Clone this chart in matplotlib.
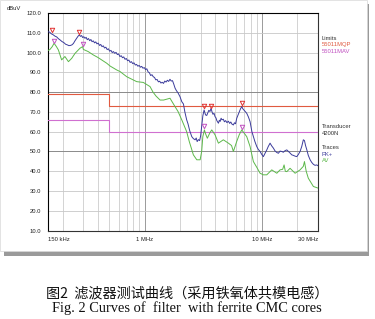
import matplotlib
matplotlib.use("Agg")
import matplotlib.pyplot as plt
from matplotlib.patches import Rectangle

# ---------------- data ----------------
pk_freq = [0.150, 0.155, 0.160, 0.166, 0.172, 0.178, 0.184, 0.190, 0.197, 0.205,
           0.212, 0.219, 0.226, 0.233, 0.240, 0.247, 0.255, 0.262, 0.270, 0.277,
           0.284, 0.290, 0.296, 0.303, 0.310, 0.317, 0.324, 0.332, 0.340, 0.348,
           0.356, 0.365, 0.374, 0.383, 0.392, 0.402, 0.412, 0.422, 0.433, 0.444,
           0.455, 0.467, 0.479, 0.491, 0.503, 0.516, 0.529, 0.542, 0.556, 0.570,
           0.585, 0.600, 0.615, 0.631, 0.647, 0.663, 0.680, 0.697, 0.715, 0.733,
           0.752, 0.771, 0.791, 0.811, 0.832, 0.853, 0.875, 0.897, 0.920, 0.943,
           0.967, 0.992, 1.017, 1.043, 1.070, 1.097, 1.125, 1.154, 1.183, 1.213,
           1.244, 1.276, 1.309, 1.342, 1.376, 1.411, 1.447, 1.484, 1.522, 1.561,
           1.601, 1.642, 1.684, 1.727, 1.771, 1.816, 1.862, 1.925, 2.000, 2.070,
           2.140, 2.200, 2.280, 2.340, 2.420, 2.520, 2.600, 2.690, 2.750, 2.800,
           2.870, 2.940, 3.000, 3.060, 3.130, 3.210, 3.260, 3.300, 3.380, 3.450,
           3.520, 3.600, 3.680, 3.750, 3.820, 3.900, 3.980, 4.050, 4.120, 4.250,
           4.330, 4.400, 4.480, 4.560, 4.680, 4.780, 4.900, 5.020, 5.170, 5.300,
           5.420, 5.550, 5.700, 5.820, 5.950, 6.090, 6.250, 6.400, 6.550, 6.720,
           6.860, 7.000, 7.200, 7.410, 7.650, 7.910, 8.200, 8.440, 8.700, 9.020,
           9.300, 9.630, 9.950, 10.27, 10.60, 10.98, 11.30, 11.71, 12.10, 12.50,
           12.90, 13.35, 13.79, 14.25, 14.73, 15.20, 15.70, 16.26, 16.80, 17.35,
           17.93, 18.55, 19.20, 19.79, 20.40, 21.10, 21.80, 22.50, 23.00, 23.50,
           24.10, 24.80, 25.70, 26.50, 27.40, 28.30, 29.30, 30.00]
pk_level = [110.5, 110.3, 109.5, 109.0, 108.3, 107.9, 107.0, 106.4, 105.6, 105.0,
            104.2, 103.9, 103.5, 103.6, 103.9, 104.6, 106.0, 107.0, 108.2, 108.9,
            108.2, 108.6, 107.6, 108.0, 107.2, 107.7, 106.5, 107.1, 106.0, 106.6,
            105.5, 105.9, 104.9, 105.4, 104.4, 104.8, 103.6, 104.1, 103.0, 103.4,
            102.3, 102.7, 101.5, 101.9, 100.7, 101.1, 100.0, 100.5, 99.6, 100.1,
            99.0, 99.3, 98.0, 98.4, 97.4, 97.8, 96.6, 97.0, 95.9, 96.2,
            95.0, 95.4, 94.4, 94.8, 93.7, 94.0, 93.1, 93.5, 92.6, 93.0,
            92.1, 92.4, 91.4, 91.8, 90.2, 89.8, 88.4, 88.8, 87.8, 87.4,
            86.2, 86.4, 85.2, 85.5, 84.6, 85.0, 84.4, 85.6, 85.1, 86.0,
            85.4, 86.5, 85.6, 85.8, 84.0, 82.0, 80.8, 79.6, 77.7, 75.2,
            74.0, 70.0, 66.0, 64.0, 60.5, 57.5, 56.5, 55.9, 56.8, 55.0,
            56.0, 55.5, 58.0, 62.6, 68.0, 71.0, 69.5, 68.5, 68.2, 69.5,
            70.8, 70.2, 71.8, 70.0, 68.8, 69.3, 67.6, 67.0, 65.6, 64.3,
            65.8, 65.2, 66.8, 66.0, 66.3, 65.0, 65.6, 64.6, 65.3, 64.2,
            64.9, 63.8, 63.4, 64.5, 64.0, 66.8, 68.5, 70.0, 71.5, 72.7,
            71.6, 71.0, 70.2, 69.3, 67.5, 65.1, 60.0, 57.5, 55.0, 52.5,
            51.0, 50.0, 48.5, 47.4, 49.0, 50.8, 52.5, 54.2, 52.8, 51.7,
            50.3, 49.5, 49.1, 50.2, 50.0, 49.6, 50.4, 50.8, 50.0, 49.2,
            48.3, 48.0, 47.6, 47.4, 48.5, 50.0, 52.5, 55.9, 55.5, 53.0,
            50.8, 48.0, 45.8, 44.5, 43.5, 43.0, 43.2, 42.8]

av_freq = [0.150, 0.156, 0.163, 0.169, 0.177, 0.184, 0.196, 0.209, 0.224, 0.239,
           0.255, 0.281, 0.296, 0.300, 0.330, 0.365, 0.400, 0.475, 0.507, 0.578,
           0.617, 0.703, 0.855, 0.974, 1.111, 1.178, 1.250, 1.352, 1.450, 1.644,
           1.800, 1.925, 2.070, 2.280, 2.400, 2.600, 2.780, 2.970, 3.060, 3.130,
           3.230, 3.300, 3.420, 3.600, 3.730, 3.980, 4.250, 4.680, 5.170, 5.500,
           5.700, 6.090, 6.400, 6.720, 7.410, 7.910, 8.440, 9.020, 9.630, 10.27,
           10.98, 12.11, 13.37, 14.25, 15.00, 15.42, 15.80, 16.26, 17.34, 19.14,
           21.10, 22.50, 23.00, 23.80, 24.80, 27.40, 30.00]
av_level = [101.0, 101.6, 103.0, 104.7, 103.0, 101.3, 96.3, 98.0, 95.4, 97.1,
            99.6, 102.2, 103.0, 101.6, 100.5, 98.8, 97.5, 94.6, 93.2, 91.2,
            90.4, 87.8, 85.3, 84.9, 82.8, 80.0, 78.0, 76.0, 76.0, 76.9,
            73.0, 70.2, 66.0, 60.0, 55.0, 48.3, 45.8, 45.8, 50.0, 57.5,
            60.9, 59.0, 56.7, 59.5, 60.9, 58.4, 54.2, 55.9, 54.2, 53.0,
            50.0, 55.1, 58.5, 60.9, 57.5, 52.5, 44.9, 42.0, 39.0, 38.2,
            38.2, 40.7, 39.0, 40.7, 41.0, 43.2, 40.0, 39.8, 41.5, 39.0,
            40.7, 42.5, 44.9, 40.0, 36.5, 32.3, 31.5]

limit_freq = [0.15, 0.5, 0.5, 30.0]
qp_limit = [79.0, 79.0, 73.0, 73.0]
av_limit = [66.0, 66.0, 60.0, 60.0]

pk_mark_freq = [0.161, 0.277, 3.21, 3.68, 6.72]
pk_mark_level = [111.6, 110.4, 73.0, 73.0, 74.6]
av_mark_freq = [0.169, 0.296, 3.23, 6.72]
av_mark_level = [106.0, 104.2, 62.9, 62.5]

y_ticks = [10, 20, 30, 40, 50, 60, 70, 80, 90, 100, 110, 120]
x_ticks = [0.15, 1.0, 10.0, 30.0]
x_tick_labels = ["150 kHz", "1 MHz", "10 MHz", "30 MHz"]
minor_grid = [0.2, 0.3, 0.4, 0.5, 0.6, 0.7, 0.8, 0.9,
              2, 3, 4, 5, 6, 7, 8, 9, 20]
major_grid = [1.0, 10.0]
dark_hgrid = [80, 50]

# ---------------- figure ----------------
W, H = 375, 319
fig = plt.figure(figsize=(W / 100, H / 100), dpi=100)
fig.patch.set_facecolor("white")


def fx(x):
    return x / W


def fy(y):
    return 1 - y / H


# frame with shadow
fig.patches.append(Rectangle((fx(4), fy(256)), fx(369) - fx(4), fy(4) - fy(256),
                             transform=fig.transFigure, facecolor="#9a9a9a",
                             edgecolor="none", zorder=-3))
fig.patches.append(Rectangle((fx(0), fy(251)), fx(367), fy(0) - fy(251),
                             transform=fig.transFigure, facecolor="white",
                             edgecolor="#d8d8d8", linewidth=0.5, zorder=-2))

ax = fig.add_axes([fx(48), fy(231), fx(318) - fx(48), fy(13) - fy(231)])
ax.set_zorder(5)
ax.set_facecolor("white")
ax.set_xscale("log")
ax.set_xlim(0.15, 30.0)
ax.set_ylim(9.8, 120)

for f in minor_grid:
    ax.axvline(f, color="#c8c8c8", lw=0.55, zorder=1)
for f in major_grid:
    ax.axvline(f, color="#9a9a9a", lw=0.7, zorder=1)
for v in y_ticks[1:-1]:
    c = "#8a8a8a" if v in dark_hgrid else "#c8c8c8"
    ax.axhline(v, color=c, lw=0.7 if v in dark_hgrid else 0.6, zorder=1)

ax.plot(limit_freq, qp_limit, color="#e05a40", lw=0.8, zorder=3)
ax.plot(limit_freq, av_limit, color="#d070d0", lw=0.8, zorder=3)
ax.plot(av_freq, av_level, color="#5cb84a", lw=0.7, zorder=4)
ax.plot(pk_freq, pk_level, color="#3b3b9b", lw=0.7, zorder=5)
ax.plot(pk_mark_freq, pk_mark_level, linestyle="none", marker="v", ms=3.2,
        mfc="none", mec="#e03030", mew=0.7, zorder=6)
ax.plot(av_mark_freq, av_mark_level, linestyle="none", marker="v", ms=3.2,
        mfc="none", mec="#c050c0", mew=0.7, zorder=6)

ax.set_yticks(y_ticks)
ax.set_yticklabels([f"{v:.1f}" for v in y_ticks], fontsize=4.2,
                   family="Liberation Sans", color="#222222")
ax.set_xticks(x_ticks)
ax.set_xticklabels(x_tick_labels, fontsize=4.2, family="Liberation Sans",
                   color="#222222")
ax.xaxis.set_minor_locator(matplotlib.ticker.NullLocator())
ax.tick_params(axis="both", length=0, pad=4)
ax.tick_params(axis="y", pad=5)
lbls = ax.get_xticklabels()
lbls[0].set_horizontalalignment("left")
lbls[-1].set_horizontalalignment("right")

for s in ["left", "top"]:
    ax.spines[s].set_color("black")
    ax.spines[s].set_linewidth(0.8)
for s in ["bottom", "right"]:
    ax.spines[s].set_color("#333333")
    ax.spines[s].set_linewidth(0.8)

tk = dict(fontsize=4.2, family="Liberation Sans", va="center", ha="left")
fig.text(fx(7), fy(9), "dBuV", color="#222222", **tk)
fig.text(fx(322), fy(38), "Limits", color="#333333", **tk)
fig.text(fx(322), fy(44.7), "55011MQP", color="#e05a40", **tk)
fig.text(fx(322), fy(51.5), "55011MAV", color="#c050c0", **tk)
fig.text(fx(322), fy(126), "Transducer", color="#333333", **tk)
fig.text(fx(322), fy(133), "4200N", color="#333333", **tk)
fig.text(fx(322), fy(147), "Traces", color="#333333", **tk)
fig.text(fx(322), fy(154), "PK+", color="#3b3b9b", **tk)
fig.text(fx(322), fy(161), "AV", color="#5cb84a", **tk)

fig.text(fx(187), fy(293), "图2  滤波器测试曲线（采用铁氧体共模电感）",
         family=["Noto Sans CJK SC", "DejaVu Sans"], fontsize=10.2,
         weight="medium", ha="center", va="center", color="#111111")
fig.text(fx(187), fy(308.5), "Fig. 2 Curves of  filter  with ferrite CMC cores",
         family="Liberation Serif", fontsize=10.4, ha="center", va="center",
         color="#111111")

fig.savefig("out.png", dpi=100, facecolor="white")
